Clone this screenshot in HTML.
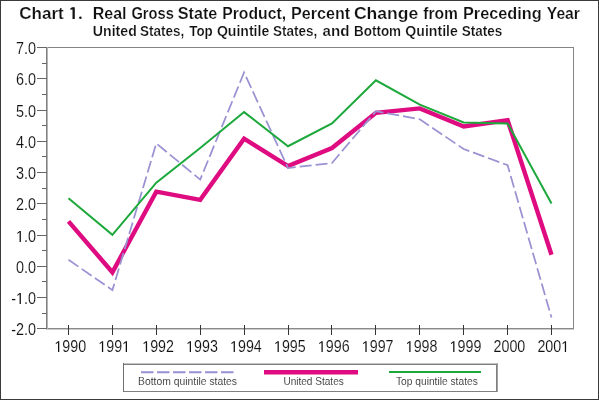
<!DOCTYPE html>
<html><head><meta charset="utf-8"><style>
html,body{margin:0;padding:0;background:#fff;overflow:hidden;}
svg{display:block;will-change:transform;}
text{font-family:"Liberation Sans",sans-serif;}
</style></head><body>
<svg width="599" height="400" viewBox="0 0 599 400">
<rect x="0" y="0" width="599" height="400" fill="#fff"/>
<rect x="0.5" y="0.5" width="598" height="399" fill="none" stroke="#3a3a3a" stroke-width="1"/>
<text transform="translate(19.16,18.8) scale(1.0357,1)" x="0" y="0" font-size="16.5" font-weight="bold" fill="#111" stroke="#fff" stroke-width="0.2" xml:space="preserve">Chart</text>
<text transform="translate(92.73,18.8) scale(0.9697,1)" x="0" y="0" font-size="16.5" font-weight="bold" fill="#111" stroke="#fff" stroke-width="0.2" xml:space="preserve">Real</text>
<text transform="translate(131.41,18.8) scale(0.8913,1)" x="0" y="0" font-size="16.5" font-weight="bold" fill="#111" stroke="#fff" stroke-width="0.2" xml:space="preserve">Gross</text>
<text transform="translate(177.82,18.8) scale(0.9795,1)" x="0" y="0" font-size="16.5" font-weight="bold" fill="#111" stroke="#fff" stroke-width="0.2" xml:space="preserve">State</text>
<text transform="translate(222.25,18.8) scale(0.9538,1)" x="0" y="0" font-size="16.5" font-weight="bold" fill="#111" stroke="#fff" stroke-width="0.2" xml:space="preserve">Product,</text>
<text transform="translate(291.02,18.8) scale(0.9763,1)" x="0" y="0" font-size="16.5" font-weight="bold" fill="#111" stroke="#fff" stroke-width="0.2" xml:space="preserve">Percent</text>
<text transform="translate(353.94,18.8) scale(1.0627,1)" x="0" y="0" font-size="16.5" font-weight="bold" fill="#111" stroke="#fff" stroke-width="0.2" xml:space="preserve">Change</text>
<text transform="translate(423.20,18.8) scale(0.9500,1)" x="0" y="0" font-size="16.5" font-weight="bold" fill="#111" stroke="#fff" stroke-width="0.2" xml:space="preserve">from</text>
<text transform="translate(463.01,18.8) scale(0.9872,1)" x="0" y="0" font-size="16.5" font-weight="bold" fill="#111" stroke="#fff" stroke-width="0.2" xml:space="preserve">Preceding</text>
<text transform="translate(546.80,18.8) scale(0.9514,1)" x="0" y="0" font-size="16.5" font-weight="bold" fill="#111" stroke="#fff" stroke-width="0.2" xml:space="preserve">Year</text>
<text transform="translate(92.77,35.5) scale(1.0268,1)" x="0" y="0" font-size="13.8" font-weight="bold" fill="#111" stroke="#fff" stroke-width="0.2" xml:space="preserve">United</text>
<text transform="translate(139.92,35.5) scale(0.9795,1)" x="0" y="0" font-size="13.8" font-weight="bold" fill="#111" stroke="#fff" stroke-width="0.2" xml:space="preserve">States,</text>
<text transform="translate(189.30,35.5) scale(0.9667,1)" x="0" y="0" font-size="13.8" font-weight="bold" fill="#111" stroke="#fff" stroke-width="0.2" xml:space="preserve">Top</text>
<text transform="translate(216.88,35.5) scale(1.0200,1)" x="0" y="0" font-size="13.8" font-weight="bold" fill="#111" stroke="#fff" stroke-width="0.2" xml:space="preserve">Quintile</text>
<text transform="translate(273.02,35.5) scale(0.9773,1)" x="0" y="0" font-size="13.8" font-weight="bold" fill="#111" stroke="#fff" stroke-width="0.2" xml:space="preserve">States,</text>
<text transform="translate(322.50,35.5) scale(1.0958,1)" x="0" y="0" font-size="13.8" font-weight="bold" fill="#111" stroke="#fff" stroke-width="0.2" xml:space="preserve">and</text>
<text transform="translate(354.03,35.5) scale(0.9745,1)" x="0" y="0" font-size="13.8" font-weight="bold" fill="#111" stroke="#fff" stroke-width="0.2" xml:space="preserve">Bottom</text>
<text transform="translate(405.28,35.5) scale(1.0240,1)" x="0" y="0" font-size="13.8" font-weight="bold" fill="#111" stroke="#fff" stroke-width="0.2" xml:space="preserve">Quintile</text>
<text transform="translate(461.82,35.5) scale(0.9800,1)" x="0" y="0" font-size="13.8" font-weight="bold" fill="#111" stroke="#fff" stroke-width="0.2" xml:space="preserve">States</text>
<text transform="translate(138.06,385) scale(0.9423,1)" x="0" y="0" font-size="11" font-weight="normal" fill="#2a2a2a" stroke="#fff" stroke-width="0.1" xml:space="preserve">Bottom quintile states</text>
<text transform="translate(283.38,385) scale(0.9154,1)" x="0" y="0" font-size="11" font-weight="normal" fill="#2a2a2a" stroke="#fff" stroke-width="0.1" xml:space="preserve">United States</text>
<text transform="translate(396.00,385) scale(0.9295,1)" x="0" y="0" font-size="11" font-weight="normal" fill="#2a2a2a" stroke="#fff" stroke-width="0.1" xml:space="preserve">Top quintile states</text>
<path d="M70.3,8.4 L72.0,7.2 H74.8 V18.9 H72.5 V9.5 L70.3,9.7 Z" fill="#161616"/>
<ellipse cx="80.4" cy="17.7" rx="1.3" ry="1.2" fill="#161616"/>
<rect x="46" y="47" width="528" height="1" fill="#858585"/>
<rect x="46" y="328" width="528" height="1" fill="#8a8a8a"/>
<rect x="46" y="329" width="528" height="1" fill="#cacaca"/>
<rect x="573" y="47" width="1" height="282" fill="#858585"/>
<rect x="46" y="47" width="1" height="282" fill="#808080"/>
<rect x="47" y="47" width="1" height="282" fill="#b4b4b4"/>
<rect x="37" y="47" width="10" height="1" fill="#666"/>
<g transform="translate(15.98,54) scale(0.9,1)" fill="#111"><text x="0.000" y="0" font-size="16" font-weight="normal" stroke="#fff" stroke-width="0.12">7</text><text x="8.898" y="0" font-size="16" font-weight="normal" stroke="#fff" stroke-width="0.12">.</text><text x="13.344" y="0" font-size="16" font-weight="normal" stroke="#fff" stroke-width="0.12">0</text></g>
<rect x="42" y="63" width="5" height="1" fill="#666"/>
<rect x="37" y="78" width="10" height="1" fill="#666"/>
<g transform="translate(15.98,85) scale(0.9,1)" fill="#111"><text x="0.000" y="0" font-size="16" font-weight="normal" stroke="#fff" stroke-width="0.12">6</text><text x="8.898" y="0" font-size="16" font-weight="normal" stroke="#fff" stroke-width="0.12">.</text><text x="13.344" y="0" font-size="16" font-weight="normal" stroke="#fff" stroke-width="0.12">0</text></g>
<rect x="42" y="94" width="5" height="1" fill="#666"/>
<rect x="37" y="110" width="10" height="1" fill="#666"/>
<g transform="translate(15.98,117) scale(0.9,1)" fill="#111"><text x="0.000" y="0" font-size="16" font-weight="normal" stroke="#fff" stroke-width="0.12">5</text><text x="8.898" y="0" font-size="16" font-weight="normal" stroke="#fff" stroke-width="0.12">.</text><text x="13.344" y="0" font-size="16" font-weight="normal" stroke="#fff" stroke-width="0.12">0</text></g>
<rect x="42" y="125" width="5" height="1" fill="#666"/>
<rect x="37" y="141" width="10" height="1" fill="#666"/>
<g transform="translate(15.98,148) scale(0.9,1)" fill="#111"><text x="0.000" y="0" font-size="16" font-weight="normal" stroke="#fff" stroke-width="0.12">4</text><text x="8.898" y="0" font-size="16" font-weight="normal" stroke="#fff" stroke-width="0.12">.</text><text x="13.344" y="0" font-size="16" font-weight="normal" stroke="#fff" stroke-width="0.12">0</text></g>
<rect x="42" y="156" width="5" height="1" fill="#666"/>
<rect x="37" y="172" width="10" height="1" fill="#666"/>
<g transform="translate(15.98,179) scale(0.9,1)" fill="#111"><text x="0.000" y="0" font-size="16" font-weight="normal" stroke="#fff" stroke-width="0.12">3</text><text x="8.898" y="0" font-size="16" font-weight="normal" stroke="#fff" stroke-width="0.12">.</text><text x="13.344" y="0" font-size="16" font-weight="normal" stroke="#fff" stroke-width="0.12">0</text></g>
<rect x="42" y="188" width="5" height="1" fill="#666"/>
<rect x="37" y="203" width="10" height="1" fill="#666"/>
<g transform="translate(15.98,210) scale(0.9,1)" fill="#111"><text x="0.000" y="0" font-size="16" font-weight="normal" stroke="#fff" stroke-width="0.12">2</text><text x="8.898" y="0" font-size="16" font-weight="normal" stroke="#fff" stroke-width="0.12">.</text><text x="13.344" y="0" font-size="16" font-weight="normal" stroke="#fff" stroke-width="0.12">0</text></g>
<rect x="42" y="219" width="5" height="1" fill="#666"/>
<rect x="37" y="235" width="10" height="1" fill="#666"/>
<g transform="translate(15.98,242) scale(0.9,1)" fill="#111"><path transform="translate(0.000,0) scale(0.007812,-0.007812)" d="M515 0V1237L197 1010V1180L530 1409H696V0Z"/><text x="8.898" y="0" font-size="16" font-weight="normal" stroke="#fff" stroke-width="0.12">.</text><text x="13.344" y="0" font-size="16" font-weight="normal" stroke="#fff" stroke-width="0.12">0</text></g>
<rect x="42" y="250" width="5" height="1" fill="#666"/>
<rect x="37" y="266" width="10" height="1" fill="#666"/>
<g transform="translate(15.98,273) scale(0.9,1)" fill="#111"><text x="0.000" y="0" font-size="16" font-weight="normal" stroke="#fff" stroke-width="0.12">0</text><text x="8.898" y="0" font-size="16" font-weight="normal" stroke="#fff" stroke-width="0.12">.</text><text x="13.344" y="0" font-size="16" font-weight="normal" stroke="#fff" stroke-width="0.12">0</text></g>
<rect x="42" y="281" width="5" height="1" fill="#666"/>
<rect x="37" y="297" width="10" height="1" fill="#666"/>
<g transform="translate(11.19,304) scale(0.9,1)" fill="#111"><text x="0.000" y="0" font-size="16" font-weight="normal" stroke="#fff" stroke-width="0.12">-</text><path transform="translate(5.328,0) scale(0.007812,-0.007812)" d="M515 0V1237L197 1010V1180L530 1409H696V0Z"/><text x="14.227" y="0" font-size="16" font-weight="normal" stroke="#fff" stroke-width="0.12">.</text><text x="18.672" y="0" font-size="16" font-weight="normal" stroke="#fff" stroke-width="0.12">0</text></g>
<rect x="42" y="313" width="5" height="1" fill="#666"/>
<rect x="37" y="328" width="10" height="1" fill="#666"/>
<g transform="translate(11.19,335) scale(0.9,1)" fill="#111"><text x="0.000" y="0" font-size="16" font-weight="normal" stroke="#fff" stroke-width="0.12">-</text><text x="5.328" y="0" font-size="16" font-weight="normal" stroke="#fff" stroke-width="0.12">2</text><text x="14.227" y="0" font-size="16" font-weight="normal" stroke="#fff" stroke-width="0.12">.</text><text x="18.672" y="0" font-size="16" font-weight="normal" stroke="#fff" stroke-width="0.12">0</text></g>
<rect x="68" y="325" width="1" height="10" fill="#333"/>
<g transform="translate(54.42,352) scale(0.915,1)" fill="#111"><path transform="translate(0.000,0) scale(0.007617,-0.007617)" d="M515 0V1237L197 1010V1180L530 1409H696V0Z"/><text x="8.676" y="0" font-size="15.6" font-weight="normal" stroke="#fff" stroke-width="0.12">9</text><text x="17.352" y="0" font-size="15.6" font-weight="normal" stroke="#fff" stroke-width="0.12">9</text><text x="26.028" y="0" font-size="15.6" font-weight="normal" stroke="#fff" stroke-width="0.12">0</text></g>
<rect x="112" y="325" width="1" height="10" fill="#333"/>
<g transform="translate(98.33,352) scale(0.915,1)" fill="#111"><path transform="translate(0.000,0) scale(0.007617,-0.007617)" d="M515 0V1237L197 1010V1180L530 1409H696V0Z"/><text x="8.676" y="0" font-size="15.6" font-weight="normal" stroke="#fff" stroke-width="0.12">9</text><text x="17.352" y="0" font-size="15.6" font-weight="normal" stroke="#fff" stroke-width="0.12">9</text><path transform="translate(26.028,0) scale(0.007617,-0.007617)" d="M515 0V1237L197 1010V1180L530 1409H696V0Z"/></g>
<rect x="156" y="325" width="1" height="10" fill="#333"/>
<g transform="translate(142.24,352) scale(0.915,1)" fill="#111"><path transform="translate(0.000,0) scale(0.007617,-0.007617)" d="M515 0V1237L197 1010V1180L530 1409H696V0Z"/><text x="8.676" y="0" font-size="15.6" font-weight="normal" stroke="#fff" stroke-width="0.12">9</text><text x="17.352" y="0" font-size="15.6" font-weight="normal" stroke="#fff" stroke-width="0.12">9</text><text x="26.028" y="0" font-size="15.6" font-weight="normal" stroke="#fff" stroke-width="0.12">2</text></g>
<rect x="200" y="325" width="1" height="10" fill="#333"/>
<g transform="translate(186.15,352) scale(0.915,1)" fill="#111"><path transform="translate(0.000,0) scale(0.007617,-0.007617)" d="M515 0V1237L197 1010V1180L530 1409H696V0Z"/><text x="8.676" y="0" font-size="15.6" font-weight="normal" stroke="#fff" stroke-width="0.12">9</text><text x="17.352" y="0" font-size="15.6" font-weight="normal" stroke="#fff" stroke-width="0.12">9</text><text x="26.028" y="0" font-size="15.6" font-weight="normal" stroke="#fff" stroke-width="0.12">3</text></g>
<rect x="244" y="325" width="1" height="10" fill="#333"/>
<g transform="translate(230.06,352) scale(0.915,1)" fill="#111"><path transform="translate(0.000,0) scale(0.007617,-0.007617)" d="M515 0V1237L197 1010V1180L530 1409H696V0Z"/><text x="8.676" y="0" font-size="15.6" font-weight="normal" stroke="#fff" stroke-width="0.12">9</text><text x="17.352" y="0" font-size="15.6" font-weight="normal" stroke="#fff" stroke-width="0.12">9</text><text x="26.028" y="0" font-size="15.6" font-weight="normal" stroke="#fff" stroke-width="0.12">4</text></g>
<rect x="288" y="325" width="1" height="10" fill="#333"/>
<g transform="translate(273.97,352) scale(0.915,1)" fill="#111"><path transform="translate(0.000,0) scale(0.007617,-0.007617)" d="M515 0V1237L197 1010V1180L530 1409H696V0Z"/><text x="8.676" y="0" font-size="15.6" font-weight="normal" stroke="#fff" stroke-width="0.12">9</text><text x="17.352" y="0" font-size="15.6" font-weight="normal" stroke="#fff" stroke-width="0.12">9</text><text x="26.028" y="0" font-size="15.6" font-weight="normal" stroke="#fff" stroke-width="0.12">5</text></g>
<rect x="331" y="325" width="1" height="10" fill="#333"/>
<g transform="translate(317.88,352) scale(0.915,1)" fill="#111"><path transform="translate(0.000,0) scale(0.007617,-0.007617)" d="M515 0V1237L197 1010V1180L530 1409H696V0Z"/><text x="8.676" y="0" font-size="15.6" font-weight="normal" stroke="#fff" stroke-width="0.12">9</text><text x="17.352" y="0" font-size="15.6" font-weight="normal" stroke="#fff" stroke-width="0.12">9</text><text x="26.028" y="0" font-size="15.6" font-weight="normal" stroke="#fff" stroke-width="0.12">6</text></g>
<rect x="375" y="325" width="1" height="10" fill="#333"/>
<g transform="translate(361.79,352) scale(0.915,1)" fill="#111"><path transform="translate(0.000,0) scale(0.007617,-0.007617)" d="M515 0V1237L197 1010V1180L530 1409H696V0Z"/><text x="8.676" y="0" font-size="15.6" font-weight="normal" stroke="#fff" stroke-width="0.12">9</text><text x="17.352" y="0" font-size="15.6" font-weight="normal" stroke="#fff" stroke-width="0.12">9</text><text x="26.028" y="0" font-size="15.6" font-weight="normal" stroke="#fff" stroke-width="0.12">7</text></g>
<rect x="419" y="325" width="1" height="10" fill="#333"/>
<g transform="translate(405.69,352) scale(0.915,1)" fill="#111"><path transform="translate(0.000,0) scale(0.007617,-0.007617)" d="M515 0V1237L197 1010V1180L530 1409H696V0Z"/><text x="8.676" y="0" font-size="15.6" font-weight="normal" stroke="#fff" stroke-width="0.12">9</text><text x="17.352" y="0" font-size="15.6" font-weight="normal" stroke="#fff" stroke-width="0.12">9</text><text x="26.028" y="0" font-size="15.6" font-weight="normal" stroke="#fff" stroke-width="0.12">8</text></g>
<rect x="463" y="325" width="1" height="10" fill="#333"/>
<g transform="translate(449.60,352) scale(0.915,1)" fill="#111"><path transform="translate(0.000,0) scale(0.007617,-0.007617)" d="M515 0V1237L197 1010V1180L530 1409H696V0Z"/><text x="8.676" y="0" font-size="15.6" font-weight="normal" stroke="#fff" stroke-width="0.12">9</text><text x="17.352" y="0" font-size="15.6" font-weight="normal" stroke="#fff" stroke-width="0.12">9</text><text x="26.028" y="0" font-size="15.6" font-weight="normal" stroke="#fff" stroke-width="0.12">9</text></g>
<rect x="507" y="325" width="1" height="10" fill="#333"/>
<g transform="translate(493.51,352) scale(0.915,1)" fill="#111"><text x="0.000" y="0" font-size="15.6" font-weight="normal" stroke="#fff" stroke-width="0.12">2</text><text x="8.676" y="0" font-size="15.6" font-weight="normal" stroke="#fff" stroke-width="0.12">0</text><text x="17.352" y="0" font-size="15.6" font-weight="normal" stroke="#fff" stroke-width="0.12">0</text><text x="26.028" y="0" font-size="15.6" font-weight="normal" stroke="#fff" stroke-width="0.12">0</text></g>
<rect x="551" y="325" width="1" height="10" fill="#333"/>
<g transform="translate(537.42,352) scale(0.915,1)" fill="#111"><text x="0.000" y="0" font-size="15.6" font-weight="normal" stroke="#fff" stroke-width="0.12">2</text><text x="8.676" y="0" font-size="15.6" font-weight="normal" stroke="#fff" stroke-width="0.12">0</text><text x="17.352" y="0" font-size="15.6" font-weight="normal" stroke="#fff" stroke-width="0.12">0</text><path transform="translate(26.028,0) scale(0.007617,-0.007617)" d="M515 0V1237L197 1010V1180L530 1409H696V0Z"/></g>
<polyline points="68.5,221.4 112.4,272.3 156.3,191.7 200.2,199.9 244.1,138.7 288.0,166.1 332.0,148.0 375.9,112.8 419.8,108.4 463.7,126.5 507.6,120.2 551.5,254.8" fill="none" stroke="#de0c80" stroke-width="4.4" stroke-linejoin="miter"/>
<polyline points="68.5,259.8 112.4,290.1 156.3,143.4 200.2,179.6 244.1,72.5 288.0,168.0 332.0,163.0 375.9,111.2 419.8,119.3 463.7,149.0 507.6,165.2 551.5,317.6" fill="none" stroke="#9a92d2" stroke-width="1.75" stroke-dasharray="12,4" />
<polyline points="68.5,198.3 112.4,234.8 156.3,182.7 200.2,148.0 244.1,112.1 288.0,146.2 332.0,123.4 375.9,80.3 419.8,104.6 463.7,122.4 507.6,123.4 551.5,203.6" fill="none" stroke="#1ca83a" stroke-width="2" stroke-linejoin="miter"/>
<rect x="123" y="363" width="375" height="1" fill="#c4c4c4"/>
<rect x="123" y="364" width="375" height="1" fill="#808080"/>
<rect x="123" y="391" width="375" height="1" fill="#808080"/>
<rect x="123" y="363" width="1" height="29" fill="#707070"/>
<rect x="496" y="364" width="1" height="28" fill="#808080"/>
<rect x="497" y="363" width="1" height="29" fill="#a0a0a0"/>
<line x1="141" y1="372.2" x2="233.5" y2="372.2" stroke="#9690d4" stroke-width="1.9" stroke-dasharray="12.5,3.5"/>
<line x1="264" y1="372.2" x2="358" y2="372.2" stroke="#de0c80" stroke-width="4.4"/>
<line x1="389" y1="372.1" x2="481" y2="372.1" stroke="#1ca83a" stroke-width="2"/>
</svg></body></html>
